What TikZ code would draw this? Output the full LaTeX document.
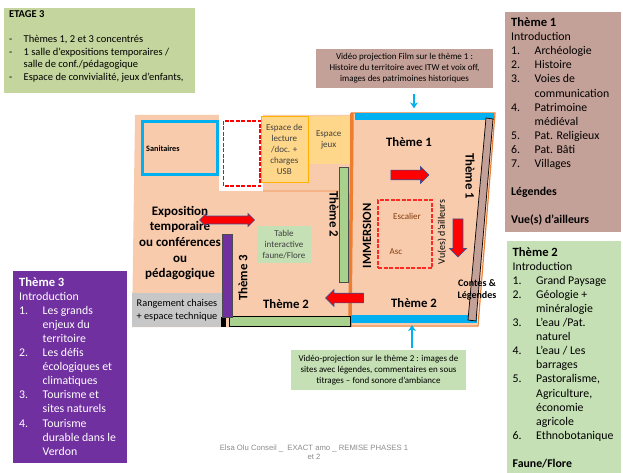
\documentclass[tikz,border=0pt]{standalone}
\usepackage{fontspec}
\setmainfont{Carlito}
\newfontfamily\footfont{Liberation Sans}
\usetikzlibrary{shapes.arrows,arrows.meta}

\definecolor{peach}{HTML}{F8CBAD}
\definecolor{wallorange}{HTML}{ED7D31}
\definecolor{stripblue}{HTML}{00B0F0}
\definecolor{paleyellow}{HTML}{FFD78A}
\definecolor{themebrown}{HTML}{C4A198}
\definecolor{themegreen}{HTML}{C5E0B4}
\definecolor{themepurple}{HTML}{7030A0}
\definecolor{stagegreen}{HTML}{C4D59D}
\definecolor{bandgreen}{HTML}{A9D18E}
\definecolor{arrowedge}{HTML}{3F4F8F}
\definecolor{stairbrown}{HTML}{843C0C}

\newcommand{\themeitem}[2]{\makebox[23.5pt][l]{#1}#2}
\newcommand{\themecont}[1]{\hspace*{23.5pt}#1}

\tikzset{
  listbox/.style={anchor=north west, align=left, inner sep=0pt, font=\fontsize{11.8}{14.1}\selectfont},
  planlabel/.style={font=\fontsize{12.8}{14}\selectfont\bfseries, inner sep=0pt},
  smalllabel/.style={font=\fontsize{9}{11}\selectfont, align=center, inner sep=0pt},
  redarrow/.style={single arrow, fill=red, draw=arrowedge, line width=0.7pt, inner xsep=0pt, inner ysep=4.5pt,
    single arrow head extend=3.5pt, single arrow head indent=0pt},
  reddouble/.style={double arrow, fill=red, draw=arrowedge, line width=0.7pt, inner xsep=0pt, inner ysep=3.5pt,
    double arrow head extend=2.5pt, double arrow head indent=0pt},
  bluearrow/.style={-{Stealth[length=6pt,width=8pt]}, draw=stripblue, line width=1.7pt},
  bandbox/.style={draw=black!70, line width=0.7pt, inner sep=0pt}
}

\begin{document}
\begin{tikzpicture}[x=1pt,y=-1pt]
  \useasboundingbox (0,0) rectangle (623,473);

  % floor
  \fill[peach] (135,115) -- (350,115) -- (350,327) -- (132,327) -- cycle;
  \fill[white] (219,114) rectangle (263,191);
  \fill[peach] (351,114) -- (494,114) -- (477,325) -- (350,325) -- cycle;
  \draw[wallorange, line width=1.2pt] (351,113) -- (495,113) -- (478,326) -- (349,326);
  \draw[wallorange, line width=3.5pt] (352,113) -- (350,327);
  \draw[draw=peach!70!wallorange, line width=1.5pt] (263,191) -- (350,191);

  % top left box
  \node[fill=stagegreen, minimum width=191pt, minimum height=85pt, anchor=north west] (stage) at (4,8) {};
  \node[anchor=north west, align=left, inner sep=0pt, font=\fontsize{10.5}{12.6}\selectfont] (stagetext) at (9,10.5) {%
    \textbf{ETAGE 3}\\[12.4pt]
    \makebox[14.5pt][l]{-}Thèmes 1, 2 et 3 concentrés\\
    \makebox[14.5pt][l]{-}1 salle d’expositions temporaires /\\
    \hspace*{14.5pt}salle de conf./pédagogique\\
    \makebox[14.5pt][l]{-}Espace de convivialité, jeux d’enfants,};

  % theme lists
  \node[fill=themebrown, minimum width=116pt, minimum height=220pt, anchor=north west] (theme1box) at (505,12) {};
  \node[listbox] (theme1list) at (511,17.5) {%
    {\fontsize{12.6}{14.1}\selectfont\textbf{Thème 1}}\\
    Introduction\\
    \themeitem{1.}{Archéologie}\\
    \themeitem{2.}{Histoire}\\
    \themeitem{3.}{Voies de}\\
    \themecont{communication}\\
    \themeitem{4.}{Patrimoine}\\
    \themecont{médiéval}\\
    \themeitem{5.}{Pat. Religieux}\\
    \themeitem{6.}{Pat. Bâti}\\
    \themeitem{7.}{Villages}\\[14.1pt]
    \textbf{Légendes}\\[14.1pt]
    \textbf{Vue(s) d’ailleurs}};

  \node[fill=themegreen, minimum width=114pt, minimum height=232pt, anchor=north west] (theme2box) at (507,241) {};
  \node[listbox] (theme2list) at (512.5,247) {%
    {\fontsize{12.6}{14.1}\selectfont\textbf{Thème 2}}\\
    Introduction\\
    \themeitem{1.}{Grand Paysage}\\
    \themeitem{2.}{Géologie +}\\
    \themecont{minéralogie}\\
    \themeitem{3.}{L’eau /Pat.}\\
    \themecont{naturel}\\
    \themeitem{4.}{L’eau / Les}\\
    \themecont{barrages}\\
    \themeitem{5.}{Pastoralisme,}\\
    \themecont{Agriculture,}\\
    \themecont{économie}\\
    \themecont{agricole}\\
    \themeitem{6.}{Ethnobotanique}\\[14.1pt]
    \textbf{Faune/Flore}};

  \node[fill=themepurple, minimum width=114pt, minimum height=192pt, anchor=north west] (theme3box) at (13,271) {};
  \node[listbox, text=white] (theme3list) at (19,277) {%
    {\fontsize{12.6}{14.1}\selectfont\textbf{Thème 3}}\\
    Introduction\\
    \themeitem{1.}{Les grands}\\
    \themecont{enjeux du}\\
    \themecont{territoire}\\
    \themeitem{2.}{Les défis}\\
    \themecont{écologiques et}\\
    \themecont{climatiques}\\
    \themeitem{3.}{Tourisme et}\\
    \themecont{sites naturels}\\
    \themeitem{4.}{Tourisme}\\
    \themecont{durable dans le}\\
    \themecont{Verdon}};

  % video boxes
  \node[fill=themebrown, minimum width=177pt, minimum height=39pt, smalllabel] (video1) at (404.5,68.5) {%
    Vidéo projection Film sur le thème 1 :\\
    Histoire du territoire avec ITW et voix off,\\
    images des patrimoines historiques};
  \node[fill=themegreen, minimum width=175pt, minimum height=40pt, smalllabel] (video2) at (378.5,370) {%
    Vidéo-projection sur le thème 2 : images de\\
    sites avec légendes, commentaires en sous\\
    titrages – fond sonore d’ambiance};

  % strips
  \node[fill=stripblue, minimum width=139pt, minimum height=7pt, inner sep=0pt] (striptop) at (424.5,117) {};
  \node[fill=stripblue, minimum width=126pt, minimum height=8pt, inner sep=0pt] (stripbottom) at (414,319) {};
  \coordinate (video1out) at (414,94);
  \coordinate (video2out) at (412,348);
  \draw[bluearrow, shorten >=5pt] (video1out) -- (striptop.north -| video1out);
  \draw[bluearrow, shorten >=2pt] (video2out) -- (stripbottom.south -| video2out);

  % slanted panel
  \draw[fill=themebrown, draw=black, line width=0.7pt] (486,118) -- (493,119) -- (476,321) -- (468,320) -- cycle;

  % left rooms
  \node[draw=stripblue, line width=2.8pt, minimum width=75pt, minimum height=53pt, anchor=north west, inner sep=0pt] (sanitaires) at (141,120) {};
  \node[anchor=west, inner sep=0pt, font=\fontsize{8.2}{10}\selectfont\bfseries] (sanitairestext) at (146,149) {Sanitaires};
  \draw[red, line width=1.3pt, dash pattern=on 4pt off 1.5pt] (223.5,121) rectangle (260,186);
  \node[fill=paleyellow, minimum width=43pt, minimum height=48pt, anchor=north west, inner sep=0pt, smalllabel,
    text=black!75] (jeux) at (307,116) {Espace\\jeux};
  \node[fill=paleyellow, draw=orange!60!yellow, line width=0.6pt, minimum width=47pt, minimum height=66pt, anchor=north west, inner sep=0pt, smalllabel,
    text=black!75] (lecture) at (260.5,116) {Espace de\\lecture\\/doc. +\\charges\\USB};

  \node[fill=bandgreen, bandbox, minimum width=9pt, minimum height=115pt] (band2right) at (343.5,224.5) {};
  \node[fill=bandgreen, draw=black, line width=0.7pt, inner sep=0pt, minimum width=121pt, minimum height=10pt] (band2bottom) at (289.5,321.5) {};
  \node[fill=black!22, minimum width=90pt, minimum height=34pt, smalllabel, font=\fontsize{10.3}{12.6}\selectfont] (rangement) at (177,310) {%
    Rangement chaises\\+ espace technique};
  \node[fill=black, inner sep=0pt, minimum width=5pt, minimum height=10pt] (foot) at (223.5,322) {};
  \node[fill=themepurple, bandbox, minimum width=10pt, minimum height=83pt] (band3) at (227,275.5) {};
  \node[fill=themegreen, minimum width=54pt, minimum height=37pt, smalllabel, text=black!75] (tablebox) at (284,244.5) {%
    Table\\interactive\\faune/Flore};

  % labels
  \node[planlabel, align=center, font=\fontsize{13}{15.6}\selectfont\bfseries] (expo) at (180,243) {%
    Exposition\\temporaire\\ou conférences\\ou\\pédagogique};
  \node[planlabel, rotate=-90] (label2right) at (334,214) {Thème 2};
  \node[planlabel, rotate=90] (label3) at (243,278) {Thème 3};
  \node[planlabel] (label2left) at (286,304) {Thème 2};
  \node[planlabel] (label1top) at (409,142) {Thème 1};
  \node[planlabel] (label2room) at (414,303) {Thème 2};
  \node[planlabel, rotate=-90] (label1right) at (470,176) {Thème 1};
  \node[planlabel, rotate=90, font=\fontsize{12.6}{14}\selectfont\bfseries] (immersion) at (367,236) {IMMERSION};
  \node[rotate=90, inner sep=0pt, font=\fontsize{10}{12}\selectfont] (vues) at (442,232) {Vu(es) d’ailleurs};
  \node[planlabel, align=center, font=\fontsize{10}{12}\selectfont\bfseries] (contes) at (477,290) {Contes \&\\Légendes};

  % stairs
  \node[draw=red!80!peach, line width=1.2pt, dash pattern=on 4pt off 1.5pt, minimum width=54pt, minimum height=68pt] (stairs) at (405,234) {};
  \node[smalllabel, text=stairbrown] (escalier) at (407,216) {Escalier};
  \node[smalllabel, text=stairbrown] (asc) at (396,252) {Asc};

  % red arrows
  \node[reddouble, minimum height=55pt, minimum width=13pt] (arrowexpo) at (227,220) {};
  \node[redarrow, minimum height=38pt, minimum width=16pt] (arrowtheme1) at (407.5,175) {};
  \node[redarrow, rotate=-90, minimum height=38pt, minimum width=17pt] (arrowvues) at (458,235.5) {};
  \node[redarrow, rotate=180, minimum height=38pt, minimum width=16pt] (arrowtheme2) at (347,298) {};

  % footer
  \node[align=center, inner sep=0pt, text=black!45, font=\footfont\fontsize{7.7}{9}\selectfont] (footer) at (314,452.5) {%
    Elsa Olu Conseil \_\ \ EXACT amo \_ REMISE PHASES 1\\et 2};
\end{tikzpicture}
\end{document}
